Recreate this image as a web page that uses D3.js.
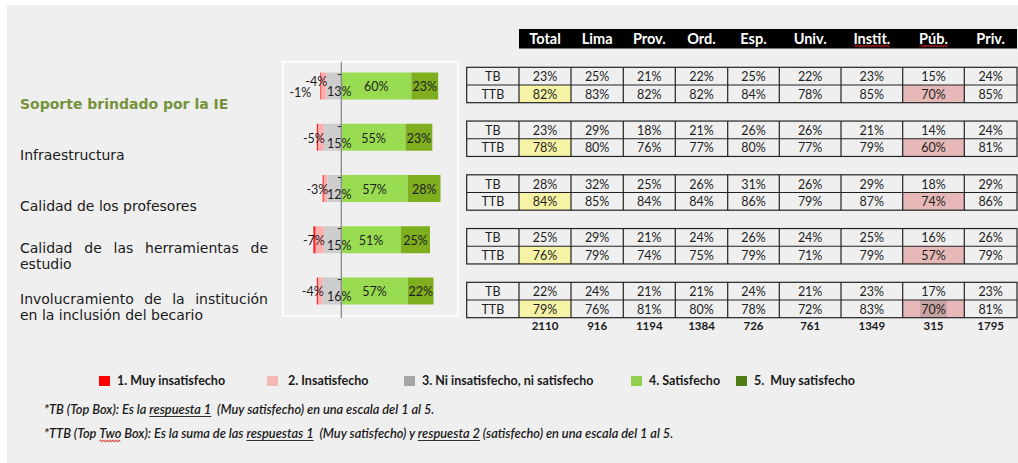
<!DOCTYPE html>
<html>
<head>
<meta charset="utf-8">
<script src="https://cdn.jsdelivr.net/npm/d3@7"></script>
<style>
  html, body { margin: 0; padding: 0; background: #fff; }
  svg { display: block; }
  text { white-space: pre; }
</style>
</head>
<body>
<svg id="chart" width="1018" height="463"></svg>
<script>
// ---- Data -------------------------------------------------------------
const categories = [
  "Soporte brindado por la IE",
  "Infraestructura",
  "Calidad de los profesores",
  "Calidad de las herramientas de estudio",
  "Involucramiento de la institución en la inclusión del becario"
];
// Share of answers per satisfaction level (%)
const muyInsatisfecho = [1, 1, 1, 2, 1];
const insatisfecho    = [4, 5, 3, 7, 4];
const neutral         = [13, 15, 12, 15, 16];
const satisfecho      = [60, 55, 57, 51, 57];
const muySatisfecho   = [23, 23, 28, 25, 22];
const redLabelShown   = [true, false, false, false, false];

// Summary table: Top Box / Top Two Box by segment
const segments = ["Total", "Lima", "Prov.", "Ord.", "Esp.", "Univ.", "Instit.", "Púb.", "Priv."];
const topBox = [
  [23, 25, 21, 22, 25, 22, 23, 15, 24],
  [23, 29, 18, 21, 26, 26, 21, 14, 24],
  [28, 32, 25, 26, 31, 26, 29, 18, 29],
  [25, 29, 21, 24, 26, 24, 25, 16, 26],
  [22, 24, 21, 21, 24, 21, 23, 17, 23]
];
const topTwoBox = [
  [82, 83, 82, 82, 84, 78, 85, 70, 85],
  [78, 80, 76, 77, 80, 77, 79, 60, 81],
  [84, 85, 84, 84, 86, 79, 87, 74, 86],
  [76, 79, 74, 75, 79, 71, 79, 57, 79],
  [79, 76, 81, 80, 78, 72, 83, 70, 81]
];
const baseCounts = [2110, 916, 1194, 1384, 726, 761, 1349, 315, 1795];

const legendLabels = [
  "1. Muy insatisfecho",
  "2. Insatisfecho",
  "3. Ni insatisfecho, ni satisfecho",
  "4. Satisfecho",
  "5.  Muy satisfecho"
];
const axisDomain = [-50, 100];

// ---- Styles / layout ---------------------------------------------------
const barColors    = ["#ff1e1e", "#ffadad", "#cdcdcd", "#99dc52", "#7fae1f"];
const legendColors = ["#ff0000", "#f5b7b5", "#a6a6a6", "#92d050", "#4f7b17"];
const sansUI  = "Lato, 'Open Sans', sans-serif";
const sansCat = "'DejaVu Sans', Verdana, sans-serif";
const W = 1018, H = 463;

const svg = d3.select("#chart");
svg.append("rect").attr("width", W).attr("height", H).attr("fill", "#ffffff");
svg.append("rect").attr("x", 7).attr("y", 5).attr("width", W - 7).attr("height", H - 5).attr("fill", "#efefef");

const measurer = svg.append("text").attr("visibility", "hidden");
function textWidth(str, family, size, weight, style) {
  measurer.attr("font-family", family).attr("font-size", size)
    .attr("font-weight", weight || "normal").attr("font-style", style || "normal").text(str);
  return measurer.node().getComputedTextLength();
}

function wavy(g, x0, x1, yy) {
  const p = d3.path();
  p.moveTo(x0, yy);
  let up = true;
  for (let xx = x0 + 1.5; xx <= x1; xx += 1.5) { p.lineTo(xx, yy + (up ? -1.1 : 1.1)); up = !up; }
  g.append("path").attr("d", p.toString()).attr("fill", "none").attr("stroke", "#e0201a").attr("stroke-width", 0.9);
}

// ---- Diverging stacked bars -------------------------------------------
const panel = { left: 283, right: 458, top: 62, bottom: 316 };
const x = d3.scaleLinear().domain(axisDomain).range([panel.left, panel.right]);
const y = d3.scalePoint().domain(categories).range([86, 291]);
const barH = 27;

svg.append("rect")
  .attr("x", panel.left).attr("y", panel.top)
  .attr("width", panel.right - panel.left).attr("height", panel.bottom - panel.top)
  .attr("fill", "#efefef").attr("stroke", "#ffffff").attr("stroke-width", 1.6);

const rows = categories.map((c, i) => {
  const g = neutral[i], p = insatisfecho[i], r = muyInsatisfecho[i];
  const s = satisfecho[i], m = muySatisfecho[i];
  return {
    cat: c, i,
    segs: [
      { k: 0, x0: -(g + p + r), x1: -(g + p), v: r },
      { k: 1, x0: -(g + p),     x1: -g,       v: p },
      { k: 2, x0: -g,           x1: 0,        v: g },
      { k: 3, x0: 0,            x1: s,        v: s },
      { k: 4, x0: s,            x1: s + m,    v: m }
    ]
  };
});

const barG = svg.append("g");
rows.forEach(row => {
  barG.selectAll(null).data(row.segs).join("rect")
    .attr("x", d => x(d.x0))
    .attr("y", y(row.cat) - barH / 2)
    .attr("width", d => x(d.x1) - x(d.x0))
    .attr("height", barH)
    .attr("fill", d => barColors[d.k]);
});

// zero axis
svg.append("line")
  .attr("x1", x(0)).attr("x2", x(0))
  .attr("y1", panel.top).attr("y2", panel.bottom + 2)
  .attr("stroke", "#8a8a8a").attr("stroke-width", 1.3);

// bar labels
const lblG = svg.append("g")
  .attr("font-family", sansUI).attr("font-size", 12.5).attr("fill", "#1e1e1e");
rows.forEach(row => {
  const cy = y(row.cat);
  const [red, pink, gray, green, dark] = row.segs;
  // positive segments: centred
  [green, dark].forEach(d => {
    lblG.append("text")
      .attr("x", (x(d.x0) + x(d.x1)) / 2).attr("y", cy + 1)
      .attr("dy", "0.35em").attr("text-anchor", "middle")
      .text(d.v + "%");
  });
  // neutral: wrapped "-" / "NN%"
  const gt = lblG.append("text").attr("text-anchor", "middle");
  gt.append("tspan").attr("x", x(0) - 2).attr("y", cy - 11).attr("dy", "0.35em").text("-");
  gt.append("tspan").attr("x", x(0) - 2).attr("y", cy + 6).attr("dy", "0.35em").text(gray.v + "%");
  // dissatisfied
  const lifted = redLabelShown[row.i];
  lblG.append("text")
    .attr("x", x(pink.x1) + 1).attr("y", cy + (lifted ? -4 : 1))
    .attr("dy", "0.35em").attr("text-anchor", "end")
    .text("-" + pink.v + "%");
  if (lifted) {
    lblG.append("text")
      .attr("x", x(red.x0) - 9).attr("y", cy + 7)
      .attr("dy", "0.35em").attr("text-anchor", "end")
      .text("-" + red.v + "%");
  }
});

// ---- Category labels ---------------------------------------------------
const catLeft = 20, catWidth = 248, catSize = 14;
categories.forEach((c, i) => {
  const weight = i === 0 ? "bold" : "normal";
  const fill = i === 0 ? "#76923c" : "#1a1a1a";
  const words = c.split(" ");
  const lines = [];
  let cur = [];
  words.forEach(w => {
    const test = cur.concat([w]).join(" ");
    if (cur.length && textWidth(test, sansCat, catSize, weight) > catWidth) { lines.push(cur); cur = [w]; }
    else cur.push(w);
  });
  lines.push(cur);
  const cy = y(c);
  const firstY = lines.length === 1 ? cy + 18 : cy + 8;
  lines.forEach((ln, j) => {
    const ly = firstY + j * 16;
    const t = svg.append("text")
      .attr("font-family", sansCat).attr("font-size", catSize)
      .attr("font-weight", weight).attr("fill", fill)
      .attr("y", ly).attr("dy", "0.35em");
    if (j < lines.length - 1 && ln.length > 1) {
      const ws = ln.map(w => textWidth(w, sansCat, catSize, weight));
      const gap = (catWidth - d3.sum(ws)) / (ln.length - 1);
      let cx = catLeft;
      ln.forEach((w, k) => {
        t.append("tspan").attr("x", cx).text(w);
        cx += ws[k] + gap;
      });
    } else {
      t.attr("x", catLeft).text(ln.join(" "));
    }
  });
});

// ---- Summary table -----------------------------------------------------
const colWidths = [52.3, 52, 52.3, 52, 52.4, 51.6, 61.7, 61.7, 61.6, 52.7];
const tableLeft = 466.7;
const colEdges = [tableLeft];
colWidths.forEach(w => colEdges.push(colEdges[colEdges.length - 1] + w));
const colMid = k => (colEdges[k] + colEdges[k + 1]) / 2;
const blockY = d3.scaleBand().domain(categories).range([67.3, 317.7]).paddingInner(0.3414);
const rowH = blockY.bandwidth() / 2;

// header
svg.append("rect")
  .attr("x", colEdges[1]).attr("y", 29)
  .attr("width", colEdges[10] - colEdges[1]).attr("height", 19.5)
  .attr("fill", "#000");
const hdr = svg.append("g").attr("font-family", sansUI).attr("font-size", 14.5)
  .attr("font-weight", "bold").attr("fill", "#fff");
segments.forEach((s, k) => {
  hdr.append("text").attr("x", colMid(k + 1)).attr("y", 38.5)
    .attr("dy", "0.35em").attr("text-anchor", "middle").text(s);
});
["Instit.", "Púb."].forEach(s => {
  const k = segments.indexOf(s);
  const w = textWidth(s, sansUI, 14.5, "bold");
  wavy(svg, colMid(k + 1) - w / 2, colMid(k + 1) + w / 2, 46);
});

const tbl = svg.append("g");
const cellFont = { family: sansUI, size: 12.5 };
categories.forEach((c, i) => {
  const top = blockY(c);
  // highlighted TTB cells
  tbl.append("rect").attr("x", colEdges[1]).attr("y", top + rowH)
    .attr("width", colWidths[1]).attr("height", rowH).attr("fill", "#f7f3a6");
  const pk = segments.indexOf("Púb.") + 1;
  tbl.append("rect").attr("x", colEdges[pk]).attr("y", top + rowH)
    .attr("width", colWidths[pk]).attr("height", rowH).attr("fill", "#e6b9b8");
  if (i === categories.length - 1) {
    const tw = textWidth(topTwoBox[i][pk - 1] + "%", cellFont.family, cellFont.size);
    tbl.append("rect").attr("x", colMid(pk) - tw / 2 - 1).attr("y", top + rowH)
      .attr("width", tw + 2).attr("height", rowH).attr("fill", "#c9a3a2");
  }
  // texts
  const rowsData = [["TB", topBox[i]], ["TTB", topTwoBox[i]]];
  rowsData.forEach(([lab, vals], r) => {
    const cy = top + rowH * r + rowH / 2;
    tbl.append("text").attr("x", colMid(0)).attr("y", cy + 0.5).attr("dy", "0.35em")
      .attr("text-anchor", "middle").attr("font-family", cellFont.family)
      .attr("font-size", cellFont.size).attr("fill", "#1e1e1e").text(lab);
    vals.forEach((v, k) => {
      tbl.append("text").attr("x", colMid(k + 1)).attr("y", cy + 0.5).attr("dy", "0.35em")
        .attr("text-anchor", "middle").attr("font-family", cellFont.family)
        .attr("font-size", cellFont.size).attr("fill", "#1e1e1e").text(v + "%");
    });
  });
  // grid
  const st = "#222";
  tbl.append("rect").attr("x", colEdges[0]).attr("y", top)
    .attr("width", colEdges[10] - colEdges[0]).attr("height", rowH * 2)
    .attr("fill", "none").attr("stroke", st).attr("stroke-width", 1.2);
  tbl.append("line").attr("x1", colEdges[0]).attr("x2", colEdges[10])
    .attr("y1", top + rowH).attr("y2", top + rowH).attr("stroke", st).attr("stroke-width", 1.2);
  colEdges.slice(1, 10).forEach(ex => {
    tbl.append("line").attr("x1", ex).attr("x2", ex).attr("y1", top).attr("y2", top + rowH * 2)
      .attr("stroke", st).attr("stroke-width", 1.2);
  });
});
// base sizes
baseCounts.forEach((n, k) => {
  svg.append("text").attr("x", colMid(k + 1)).attr("y", 326).attr("dy", "0.35em")
    .attr("text-anchor", "middle").attr("font-family", sansUI).attr("font-size", 11.5)
    .attr("font-weight", "bold").attr("fill", "#1a1a1a").text(n);
});

// ---- Legend ------------------------------------------------------------
const legendX = [99, 267, 404, 631, 736];
const legG = svg.append("g").attr("font-family", sansUI).attr("font-size", 12.5)
  .attr("font-weight", "bold").attr("fill", "#1a1a1a");
legendLabels.forEach((l, k) => {
  legG.append("rect").attr("x", legendX[k]).attr("y", 376)
    .attr("width", 11).attr("height", 10).attr("fill", legendColors[k]);
  legG.append("text").attr("x", legendX[k] + (k === 1 ? 21 : 18)).attr("y", 381)
    .attr("dy", "0.35em").text(l);
});

// ---- Footnotes ---------------------------------------------------------
const noteSize = 12.8;
function note(parts, x0, yy) {
  let cx = x0;
  parts.forEach(p => {
    svg.append("text").attr("x", cx).attr("y", yy).attr("dy", "0.35em")
      .attr("font-family", sansUI).attr("font-size", noteSize).attr("font-style", "italic")
      .attr("font-weight", 600).attr("fill", "#1a1a1a").text(p.t);
    const w = textWidth(p.t, sansUI, noteSize, 600, "italic");
    if (p.u) svg.append("line").attr("x1", cx).attr("x2", cx + w)
      .attr("y1", yy + 6.5).attr("y2", yy + 6.5).attr("stroke", "#1a1a1a").attr("stroke-width", 0.9);
    if (p.w) wavy(svg, cx, cx + w, yy + 7);
    cx += w;
  });
}
note([
  { t: "*TB (Top Box): Es la " },
  { t: "respuesta 1", u: true },
  { t: "  (Muy satisfecho) en una escala del 1 al 5." }
], 44, 410);
note([
  { t: "*TTB (Top " },
  { t: "Two", w: true },
  { t: " Box): Es la suma de las " },
  { t: "respuestas 1", u: true },
  { t: "  (Muy satisfecho) y " },
  { t: "respuesta 2", u: true },
  { t: " (satisfecho) en una escala del 1 al 5." }
], 44, 434);
</script>
</body>
</html>
